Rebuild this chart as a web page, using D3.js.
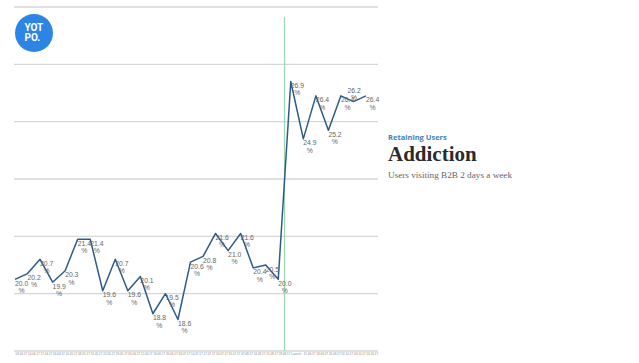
<!DOCTYPE html>
<html>
<head>
<meta charset="utf-8">
<script src="https://cdn.jsdelivr.net/npm/d3@7"></script>
<style>
  body { margin: 0; background: #fff; }
  svg { display: block; }
</style>
</head>
<body>
<svg id="chart" width="639" height="363"></svg>
<script>
// Weekly categories (the 04.09.17 week is labelled "Launch").
const weeks = ['03.04.17', '10.04.17', '17.04.17', '24.04.17', '01.05.17', '08.05.17', '15.05.17',
    '22.05.17', '29.05.17', '05.06.17', '12.06.17', '19.06.17', '26.06.17', '03.07.17', '10.07.17',
    '17.07.17', '24.07.17', '31.07.17', '07.08.17', '14.08.17', '21.08.17', '28.08.17', 'Launch',
    '11.09.17', '18.09.17', '25.09.17', '02.10.17', '09.10.17', '16.10.17'];

// Share of users visiting 2 days a week (%).
const retention = [20.0, 20.2, 20.7, 19.9, 20.3, 21.4, 21.4, 19.6, 20.7, 19.6, 20.1, 18.8, 19.5, 18.6,
    20.6, 20.8, 21.6, 21.0, 21.6, 20.4, 20.5, 20.0, 26.9, 24.9, 26.4, 25.2, 26.4, 26.2, 26.4];

// Hidden y grid values.
const gridValues = [17.5, 19.5, 21.5, 23.5, 25.5, 27.5, 29.5];

// Marker sits between the last pre-launch week and the launch week.
const markerBetween = ['28.08.17', 'Launch'];

let svg = d3.select('#chart');

let xScale = d3.scalePoint()
    .domain(weeks)
    .range([15, 366]);

let yScale = d3.scaleLinear()
    .domain([17.5, 29.5])
    .range([351, 7]);

let gridLeft = 14;
let gridRight = xScale.range()[1] + 12;

// Grid lines
svg.append('g')
    .attr('id', 'g-grid')
    .selectAll('line')
    .data(gridValues)
    .join('line')
    .attr('x1', gridLeft)
    .attr('x2', gridRight)
    .attr('y1', d => yScale(d))
    .attr('y2', d => yScale(d))
    .attr('stroke', '#d6d6d6')
    .attr('stroke-width', 1.3);

// Launch marker
let markerX = (xScale(markerBetween[0]) + xScale(markerBetween[1])) / 2;
svg.append('line')
    .attr('x1', markerX)
    .attr('x2', markerX)
    .attr('y1', 17)
    .attr('y2', yScale(17.5))
    .attr('stroke', '#9ad6b0')
    .attr('stroke-width', 1.2);

// Tiny x axis labels
let xAxis = d3.axisBottom(xScale).tickSize(0).tickPadding(0);
let gX = svg.append('g')
    .attr('id', 'g-xAxis')
    .attr('transform', 'translate(0,' + yScale(17.5) + ')')
    .call(xAxis);
gX.select('.domain').remove();
gX.selectAll('text')
    .attr('text-anchor', 'start')
    .attr('dy', 0)
    .attr('y', 3.5)
    .attr('font-family', 'Liberation Sans, Arial, sans-serif')
    .attr('font-size', 3)
    .attr('fill', '#888');

// Line
let line = d3.line()
    .x((d, i) => xScale(weeks[i]))
    .y(d => yScale(d));

svg.append('path')
    .datum(retention)
    .attr('d', line)
    .attr('fill', 'none')
    .attr('stroke', '#2d5b88')
    .attr('stroke-width', 1.5)
    .attr('stroke-linejoin', 'round');

// Data labels
let labels = svg.append('g')
    .attr('id', 'g-labels')
    .attr('font-family', 'Liberation Sans, Arial, sans-serif')
    .attr('font-size', 6.8)
    .attr('fill', '#666');

retention.forEach(function(v, i) {
    let px = xScale(weeks[i]);
    let py = yScale(v);
    // Second to last label is pushed up to avoid its neighbour.
    let dx = 0, dy = 0;
    if (i === retention.length - 2) {
        dx = -6;
        dy = -15;
    }
    let g = labels.append('g')
        .attr('transform', 'translate(' + (px + dx) + ',' + (py + dy) + ')');
    g.append('text')
        .attr('x', 0)
        .attr('y', 6.5)
        .text(v.toFixed(1));
    g.append('text')
        .attr('x', 6.5)
        .attr('y', 13.8)
        .attr('text-anchor', 'middle')
        .text('%');
});

// Logo
let logo = svg.append('g').attr('id', 'g-logo');
logo.append('circle')
    .attr('cx', 34)
    .attr('cy', 33)
    .attr('r', 19)
    .attr('fill', '#2b85e4');
logo.append('text')
    .attr('x', 24.5)
    .attr('y', 31)
    .attr('font-family', 'Roboto, Liberation Sans, sans-serif')
    .attr('font-weight', 'bold')
    .attr('font-size', 10)
    .attr('fill', '#fff')
    .text('YOT');
logo.append('text')
    .attr('x', 24.5)
    .attr('y', 40.5)
    .attr('font-family', 'Roboto, Liberation Sans, sans-serif')
    .attr('font-weight', 'bold')
    .attr('font-size', 10)
    .attr('fill', '#fff')
    .text('PO.');

// Titles on the right
let titles = svg.append('g').attr('id', 'g-titles');
titles.append('text')
    .attr('x', 388)
    .attr('y', 139.5)
    .attr('font-family', 'Open Sans, Liberation Sans, sans-serif')
    .attr('font-weight', 'bold')
    .attr('font-size', 7.5)
    .attr('fill', '#3c7fc0')
    .text('Retaining Users');
titles.append('text')
    .attr('x', 388)
    .attr('y', 161)
    .attr('font-family', 'Liberation Serif, DejaVu Serif, serif')
    .attr('font-weight', 'bold')
    .attr('font-size', 21)
    .attr('fill', '#2b2b2b')
    .text('Addiction');
titles.append('text')
    .attr('x', 388)
    .attr('y', 177.5)
    .attr('font-family', 'Liberation Serif, serif')
    .attr('font-size', 9.2)
    .attr('fill', '#666')
    .text('Users visiting B2B 2 days a week');
</script>
</body>
</html>
